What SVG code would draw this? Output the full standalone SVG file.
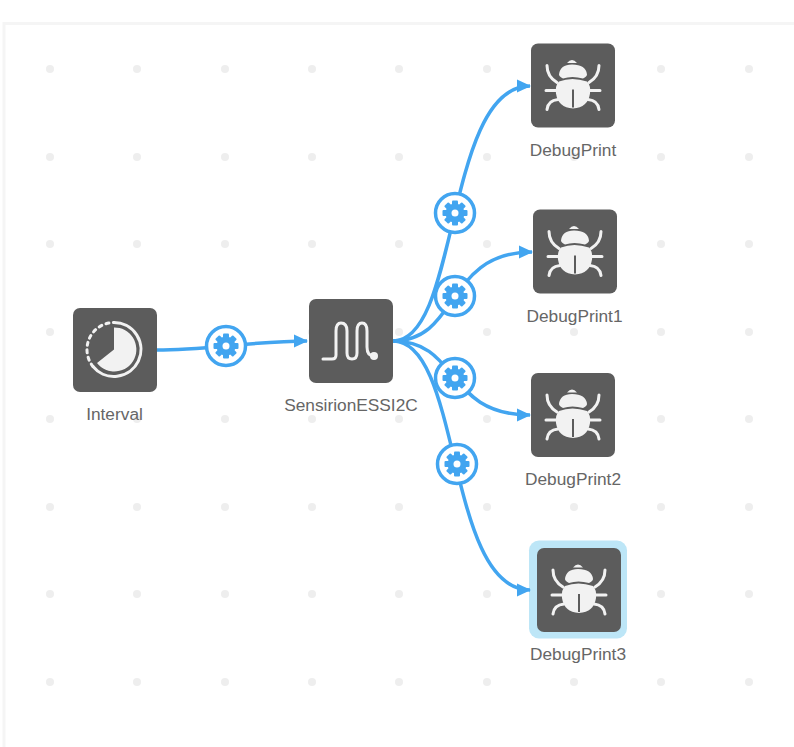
<svg xmlns="http://www.w3.org/2000/svg" width="794" height="747" viewBox="0 0 794 747">
<style>
.box{fill:#5c5c5c}
.ink{fill:#f2f2f2}
.line{fill:none;stroke:#f2f2f2;stroke-width:3;stroke-linecap:round}
.wire{fill:none;stroke:#42a5f0;stroke-width:3.5}
.lbl{font-family:"Liberation Sans",Arial,sans-serif;font-size:17.3px;fill:#666;text-anchor:middle}
.dot{fill:#eeeeee}
.blue{fill:#42a5f0}
</style>
<defs>
<marker id="arrow" markerUnits="userSpaceOnUse" markerWidth="16" markerHeight="16" refX="13" refY="8" orient="auto"><path d="M0,1.500 L14,8 L0,14.500 Z" fill="#42a5f0"/></marker>
<g id="gear">
<circle r="19.500" fill="#fff" stroke="#42a5f0" stroke-width="3.500"/>
<g class="blue">
<rect x="-3" y="-12.500" width="6" height="25" rx="1"/>
<rect x="-3" y="-12.500" width="6" height="25" rx="1" transform="rotate(45)"/>
<rect x="-3" y="-12.500" width="6" height="25" rx="1" transform="rotate(90)"/>
<rect x="-3" y="-12.500" width="6" height="25" rx="1" transform="rotate(135)"/>
<circle r="9.500"/>
</g>
<circle r="3.500" fill="#fff"/>
</g>
<g id="bug">
<rect class="box" width="84" height="84" rx="7"/>
<path class="ink" d="M36,19.500 Q41,13.500 46,19.500 Z"/>
<path class="ink" d="M28,31 Q29,21 41,21 Q55,21 56,31 Q56,33 52,35 Q41,32 32,35 Q28,33 28,31 Z"/>
<path class="ink" d="M28,38 Q41,33 56,38 Q60,42 59,50 Q57,64 42,65 Q27,64 25,50 Q24,42 28,38 Z"/>
<path d="M42,46 V64" stroke="#5c5c5c" stroke-width="2" fill="none"/>
<path class="line" d="M16,22 Q16,33 26,39 M68,22 Q68,33 58,39 M15,47 H27 M69,47 H57 M16,66 Q17,57 27,56 M68,66 Q67,57 57,56"/>
</g>
</defs>
<rect width="794" height="747" fill="#fff"/>
<path d="M4,747 V23.500 H794" fill="none" stroke="#f5f5f5" stroke-width="3"/>
<g id="grid" class="dot">
<circle cx="50" cy="69" r="4"/><circle cx="137" cy="69" r="4"/><circle cx="225" cy="69" r="4"/><circle cx="312" cy="69" r="4"/><circle cx="399" cy="69" r="4"/><circle cx="487" cy="69" r="4"/><circle cx="574" cy="69" r="4"/><circle cx="661" cy="69" r="4"/><circle cx="749" cy="69" r="4"/>
<circle cx="50" cy="157" r="4"/><circle cx="137" cy="157" r="4"/><circle cx="225" cy="157" r="4"/><circle cx="312" cy="157" r="4"/><circle cx="399" cy="157" r="4"/><circle cx="487" cy="157" r="4"/><circle cx="574" cy="157" r="4"/><circle cx="661" cy="157" r="4"/><circle cx="749" cy="157" r="4"/>
<circle cx="50" cy="244" r="4"/><circle cx="137" cy="244" r="4"/><circle cx="225" cy="244" r="4"/><circle cx="312" cy="244" r="4"/><circle cx="399" cy="244" r="4"/><circle cx="487" cy="244" r="4"/><circle cx="574" cy="244" r="4"/><circle cx="661" cy="244" r="4"/><circle cx="749" cy="244" r="4"/>
<circle cx="50" cy="332" r="4"/><circle cx="137" cy="332" r="4"/><circle cx="225" cy="332" r="4"/><circle cx="312" cy="332" r="4"/><circle cx="399" cy="332" r="4"/><circle cx="487" cy="332" r="4"/><circle cx="574" cy="332" r="4"/><circle cx="661" cy="332" r="4"/><circle cx="749" cy="332" r="4"/>
<circle cx="50" cy="419" r="4"/><circle cx="137" cy="419" r="4"/><circle cx="225" cy="419" r="4"/><circle cx="312" cy="419" r="4"/><circle cx="399" cy="419" r="4"/><circle cx="487" cy="419" r="4"/><circle cx="574" cy="419" r="4"/><circle cx="661" cy="419" r="4"/><circle cx="749" cy="419" r="4"/>
<circle cx="50" cy="507" r="4"/><circle cx="137" cy="507" r="4"/><circle cx="225" cy="507" r="4"/><circle cx="312" cy="507" r="4"/><circle cx="399" cy="507" r="4"/><circle cx="487" cy="507" r="4"/><circle cx="574" cy="507" r="4"/><circle cx="661" cy="507" r="4"/><circle cx="749" cy="507" r="4"/>
<circle cx="50" cy="594" r="4"/><circle cx="137" cy="594" r="4"/><circle cx="225" cy="594" r="4"/><circle cx="312" cy="594" r="4"/><circle cx="399" cy="594" r="4"/><circle cx="487" cy="594" r="4"/><circle cx="574" cy="594" r="4"/><circle cx="661" cy="594" r="4"/><circle cx="749" cy="594" r="4"/>
<circle cx="50" cy="682" r="4"/><circle cx="137" cy="682" r="4"/><circle cx="225" cy="682" r="4"/><circle cx="312" cy="682" r="4"/><circle cx="399" cy="682" r="4"/><circle cx="487" cy="682" r="4"/><circle cx="574" cy="682" r="4"/><circle cx="661" cy="682" r="4"/><circle cx="749" cy="682" r="4"/>
</g>
<g id="debug3">
<rect x="529" y="540.500" width="98" height="98" rx="10" fill="#bde6f7"/>
<use href="#bug" x="537" y="548"/>
<text class="lbl" x="578" y="660">DebugPrint3</text>
</g>
<g id="connectors">
<path class="wire" marker-end="url(#arrow)" d="M157,350 C205,350 255,341 307,341"/>
<path class="wire" marker-end="url(#arrow)" d="M393,341 C460,341 445,86 530,86"/>
<path class="wire" marker-end="url(#arrow)" d="M393,341 C460,341 445,252 532,252"/>
<path class="wire" marker-end="url(#arrow)" d="M393,341 C460,341 445,415 530,415"/>
<path class="wire" marker-end="url(#arrow)" d="M393,341 C462,341 446,590 530,590"/>
<use href="#gear" x="226" y="346"/>
<use href="#gear" x="455" y="213"/>
<use href="#gear" x="455" y="296"/>
<use href="#gear" x="455" y="378"/>
<use href="#gear" x="457" y="464"/>
</g>
<g id="interval" transform="translate(73,308)">
<rect class="box" width="84" height="84" rx="7"/>
<path class="ink" d="M41,19.500 A22,22 0 1 1 24,55 L41,41.500 Z"/>
<path class="line" d="M41,14.500 A27,27 0 1 1 20,58.500"/>
<path class="line" stroke-dasharray="3 4.500" d="M20,58.500 A27,27 0 0 1 41,14.500"/>
<text class="lbl" x="41.500" y="112">Interval</text>
</g>
<g id="sensirion" transform="translate(309,299)">
<rect class="box" width="84" height="84" rx="7"/>
<path class="line" d="M14,60 H23 Q27,60 27,56 V32 Q27,24 32,24 Q38,24 38,32 V54 Q38,60 43,60 Q48,60 48,54 V32 Q48,24 53,24 Q58,24 58,32 V48 Q58,57 65,57"/>
<circle class="ink" cx="65" cy="57" r="4"/>
<text class="lbl" x="42" y="112">SensirionESSI2C</text>
</g>
<g id="debug0">
<use href="#bug" x="531" y="43.500"/>
<text class="lbl" x="573" y="156">DebugPrint</text>
</g>
<g id="debug1">
<use href="#bug" x="533" y="209.500"/>
<text class="lbl" x="574.500" y="322">DebugPrint1</text>
</g>
<g id="debug2">
<use href="#bug" x="531" y="373"/>
<text class="lbl" x="573" y="485">DebugPrint2</text>
</g>
</svg>
